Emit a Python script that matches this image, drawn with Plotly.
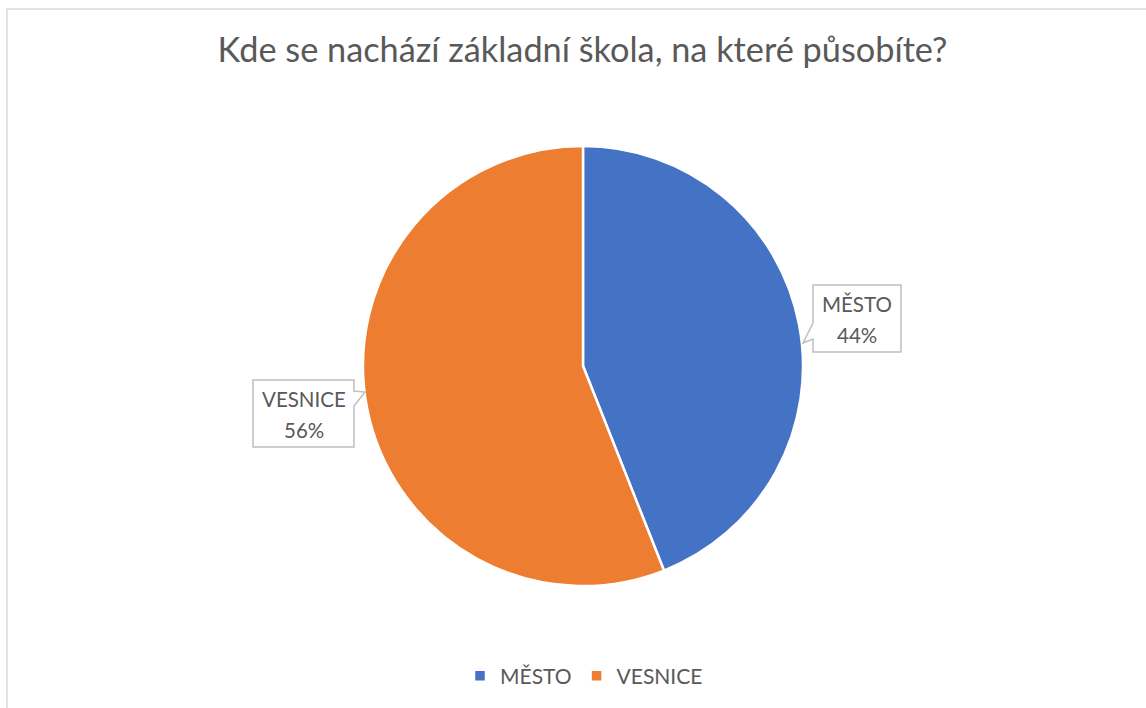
import plotly.graph_objects as go

labels = ["MĚSTO", "VESNICE"]
values = [44, 56]
colors = ["#4472C4", "#ED7D31"]
title_text = "Kde se nachází základní škola, na které působíte?"

W, H = 1146, 708
def px(x): return x / W
def py(y): return 1 - y / H

cx, cy, r = 583, 366, 220

fig = go.Figure()
fig.add_trace(go.Pie(
    labels=labels, values=values, sort=False, direction="clockwise", rotation=0,
    marker=dict(colors=colors, line=dict(color="white", width=2.5)),
    textinfo="none", hoverinfo="label+percent",
    domain=dict(x=[px(cx - r), px(cx + r)], y=[py(cy + r), py(cy - r)]),
))

font = "Lato, Open Sans, sans-serif"
gray = "#595959"

def P(x, y): return f"{px(x):.5f},{py(y):.5f}"
mesto_path = ("M " + P(813, 285) + " L " + P(901, 285) + " L " + P(901, 352) + " L " + P(813, 352)
              + " L " + P(813, 339) + " L " + P(803, 343) + " L " + P(813, 323) + " Z")
vesnice_path = ("M " + P(253, 380) + " L " + P(354, 380) + " L " + P(354, 391) + " L " + P(365, 392)
                + " L " + P(354, 406) + " L " + P(354, 447) + " L " + P(253, 447) + " Z")
shapes = [
    dict(type="path", xref="paper", yref="paper", path=mesto_path,
         fillcolor="white", line=dict(color="#BFBFBF", width=1.5)),
    dict(type="path", xref="paper", yref="paper", path=vesnice_path,
         fillcolor="white", line=dict(color="#BFBFBF", width=1.5)),
    dict(type="rect", xref="paper", yref="paper", x0=px(7), x1=px(1160), y0=py(720), y1=py(9),
         line=dict(color="#D9D9D9", width=1.5), fillcolor="rgba(0,0,0,0)"),
]

pct = [round(v / sum(values) * 100) for v in values]
lab_font = dict(family=font, size=20.5, color=gray)
annotations = [
    dict(x=px(857), y=py(304), xref="paper", yref="paper", showarrow=False,
         xanchor="center", yanchor="middle", text=labels[0], font=lab_font),
    dict(x=px(857), y=py(335), xref="paper", yref="paper", showarrow=False,
         xanchor="center", yanchor="middle", text=f"{pct[0]}%", font=lab_font),
    dict(x=px(303.5), y=py(399), xref="paper", yref="paper", showarrow=False,
         xanchor="center", yanchor="middle", text=labels[1], font=lab_font),
    dict(x=px(303.5), y=py(430), xref="paper", yref="paper", showarrow=False,
         xanchor="center", yanchor="middle", text=f"{pct[1]}%", font=lab_font),
]

fig.update_layout(
    width=W, height=H, margin=dict(l=0, r=0, t=0, b=0),
    paper_bgcolor="white", plot_bgcolor="white",
    title=dict(text=title_text, x=px(582.5), xanchor="center", y=py(50), yanchor="middle",
               font=dict(family=font, size=34.3, color=gray)),
    legend=dict(orientation="h", x=px(584), xanchor="center", y=py(676), yanchor="middle",
                font=dict(family=font, size=21, color=gray), itemwidth=30),
    shapes=shapes, annotations=annotations,
)

fig.write_html("out.html", config={"displayModeBar": False},
               post_script="document.body.style.margin='0';")
